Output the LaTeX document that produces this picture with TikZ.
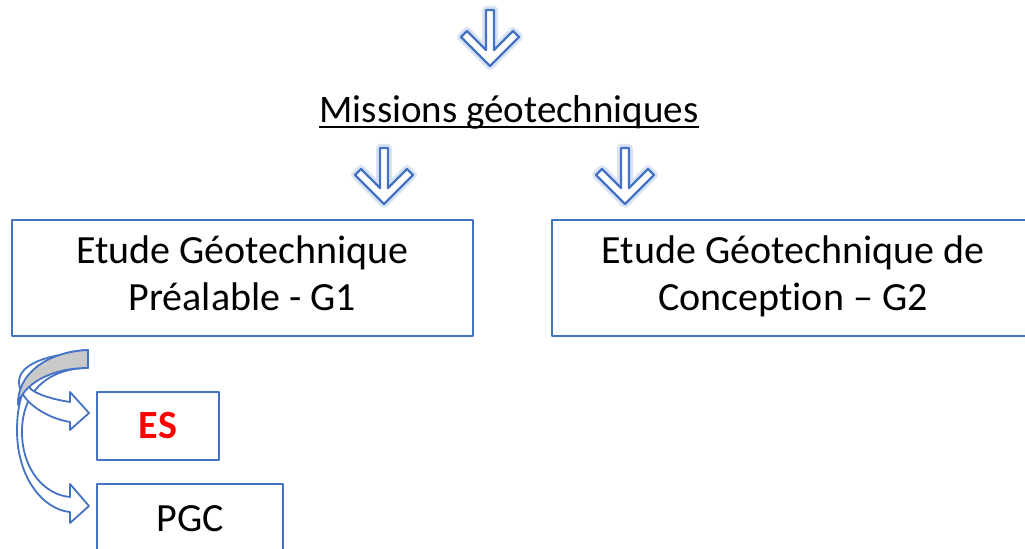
\documentclass[tikz,border=0pt]{standalone}
\usepackage{fontspec}
\setmainfont[Ligatures=NoCommon]{Carlito}
\definecolor{officeblue}{HTML}{4472C4}
\definecolor{backgray}{HTML}{C9C9C9}
\begin{document}
\begin{tikzpicture}[x=0.5pt,y=-0.5pt,line join=round,
	font=\fontsize{20}{23.5}\selectfont,
	box/.style={draw=officeblue,line width=1pt,align=center,inner sep=0pt},
	downarrow/.style={fill=white,draw=officeblue,line width=1.2pt,preaction={draw=officeblue!20,line width=4pt}},
	bent/.style={fill=white,draw=officeblue,line width=.9pt}]
	\useasboundingbox (0,0) rectangle (1025,549);
	\clip (0,0) rectangle (1025,549);
	% hollow down arrows
	\foreach \x/\t in {490/10,384/148,625/148}{
		\begin{scope}[shift={(\x,\t)}]
		\draw[downarrow] (-4,0)--(4,0)--(4,40)--(23,21)--(29,27)--(0,56)--(-29,27)--(-23,21)--(-4,40)--cycle;
		\end{scope}};
	\node[anchor=base,inner sep=0pt,font=\fontsize{19.5}{23.5}\selectfont] (missions) at (509,123) {Missions géotechniques\hspace{.23em}};
	\draw[line width=.9pt] ([yshift=-2pt]missions.base west)--([yshift=-2pt]missions.base east);
	\node[box,minimum width=230.5pt,minimum height=58pt] (g1) at (242.5,278) {\strut Etude Géotechnique\\\strut Préalable - G1};
	\node[box,minimum width=241pt,minimum height=58pt] (g2) at (793,278) {\strut Etude Géotechnique de\\\strut Conception – G2};
	\node[box,minimum width=61pt,minimum height=34pt,text=red,font=\fontsize{20}{23.5}\selectfont\bfseries] (es) at (158,426) {ES};
	\node[box,minimum width=93pt,minimum height=35pt] (pgc) at (190,519) {PGC};
	% bent arrows
	\draw[bent] (88,350) .. controls (45,352) and (17,375) .. (17,430) .. controls (17,480) and (45,510) .. (70,512)
		--(70,523)--(89,506)--(70,484)--(70,497) .. controls (45,495) and (22,470) .. (22,432) .. controls (22,390) and (50,368) .. (88,368)--cycle;
	\draw[bent] (88,352) .. controls (45,354) and (19,365) .. (19,382) .. controls (19,400) and (45,418) .. (70,422)
		--(70,430)--(89,413)--(70,392)--(70,402) .. controls (50,399) and (28,392) .. (28,384) .. controls (28,375) and (55,366) .. (88,366)--cycle;
	\draw[bent,fill=backgray] (88,350) .. controls (45,352) and (17,375) .. (18,405) .. controls (22,385) and (50,368) .. (88,368)--cycle;
\end{tikzpicture}
\end{document}
